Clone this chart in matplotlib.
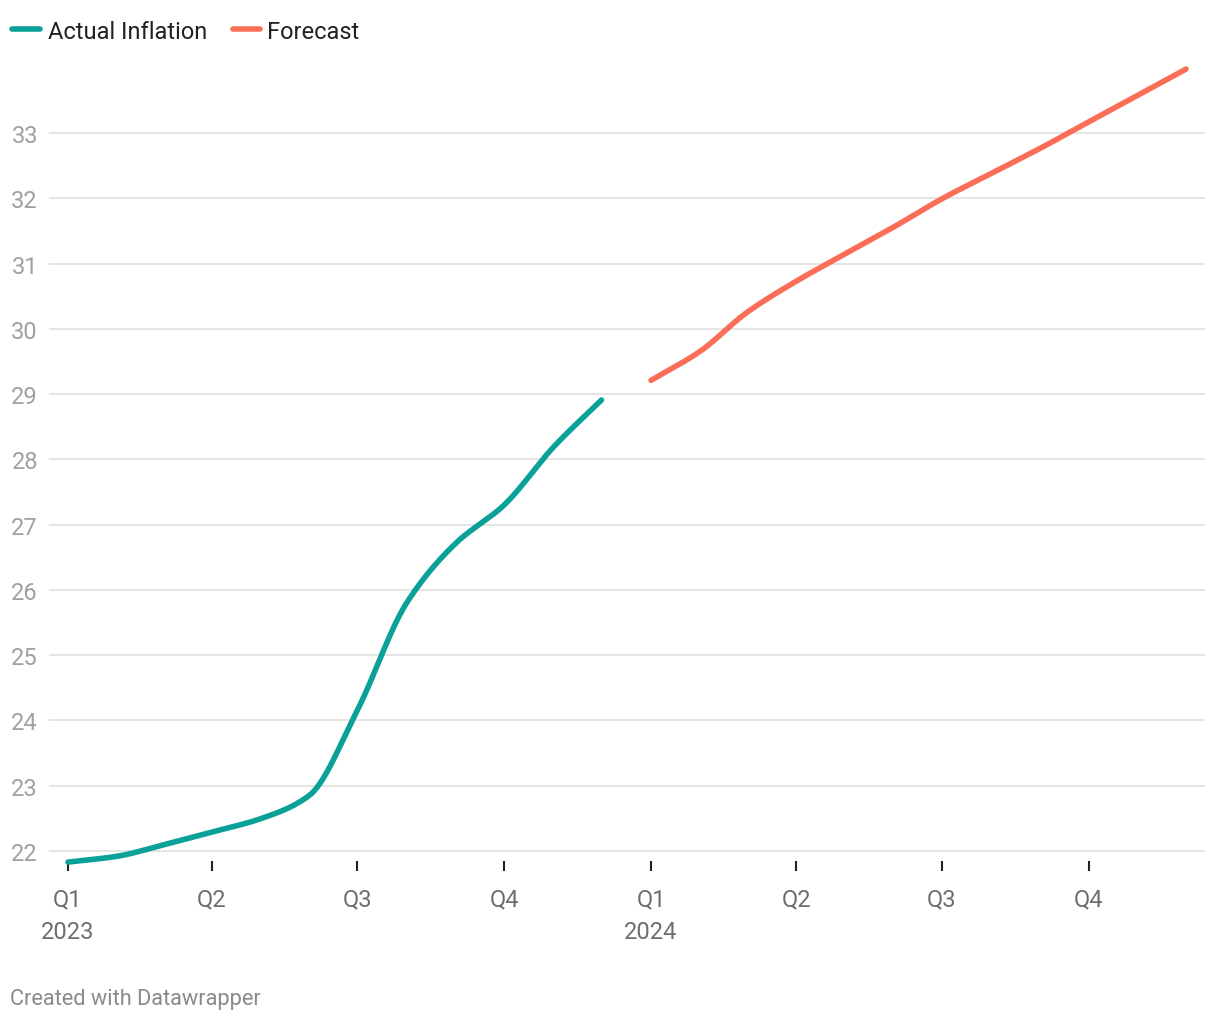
import numpy as np
import pandas as pd
import matplotlib
matplotlib.use("Agg")
import matplotlib.pyplot as plt
import matplotlib.dates as mdates
from matplotlib.lines import Line2D

plt.rcParams['font.family'] = ['Roboto', 'DejaVu Sans']

# monthly values
actual_dates = pd.date_range("2023-01-01", periods=12, freq="MS")
actual_values = [21.83, 21.92, 22.09, 22.29, 22.49, 22.85, 24.15, 25.80, 26.72, 27.30, 28.19, 28.91]

forecast_dates = pd.date_range("2024-01-01", periods=12, freq="MS")
forecast_values = [29.21, 29.66, 30.25, 30.73, 31.14, 31.56, 31.99, 32.38, 32.77, 33.17, 33.58, 33.98]

tick_dates = pd.to_datetime(["2023-01-01", "2023-04-01", "2023-07-01", "2023-10-01",
                             "2024-01-01", "2024-04-01", "2024-07-01", "2024-10-01"])
tick_labels = ["Q1\n2023", "Q2", "Q3", "Q4", "Q1\n2024", "Q2", "Q3", "Q4"]
y_ticks = list(range(22, 34))

TEAL = "#0aa198"
CORAL = "#fa6e57"


def monotone_curve(x, y, n=40):
    # monotone cubic (like d3 curveMonotoneX) drawn between the data points
    x = np.asarray(x, float)
    y = np.asarray(y, float)
    h = np.diff(x)
    d = np.diff(y) / h
    m = np.zeros_like(y)
    m[0], m[-1] = d[0], d[-1]
    for i in range(1, len(y) - 1):
        if d[i - 1] * d[i] <= 0:
            m[i] = 0
        else:
            w1 = 2 * h[i] + h[i - 1]
            w2 = h[i] + 2 * h[i - 1]
            m[i] = (w1 + w2) / (w1 / d[i - 1] + w2 / d[i])
    xs, ys = [], []
    for i in range(len(x) - 1):
        t = np.linspace(0, 1, n)
        h00 = 2 * t**3 - 3 * t**2 + 1
        h10 = t**3 - 2 * t**2 + t
        h01 = -2 * t**3 + 3 * t**2
        h11 = t**3 - t**2
        xs.append(x[i] + t * h[i])
        ys.append(h00 * y[i] + h10 * h[i] * m[i] + h01 * y[i + 1] + h11 * h[i] * m[i + 1])
    return np.concatenate(xs), np.concatenate(ys)


fig = plt.figure(figsize=(12.2, 10.2), dpi=100)
W, H = 1220, 1020
ax = fig.add_axes([49 / W, 1 - 862 / H, (1205 - 49) / W, (862 - 60) / H])

px_per_unit = 718 / 11
ax.set_ylim(22 - 10 / px_per_unit, 22 + 792 / px_per_unit)
x0 = mdates.date2num(pd.Timestamp("2023-01-01"))
px_per_day = 583 / 365
ax.set_xlim(x0 - 19 / px_per_day, x0 + (1205 - 68) / px_per_day)

for yt in y_ticks:
    ax.axhline(yt, color="#e5e5e5", lw=1.4, zorder=1)

ax_x, ax_y = monotone_curve(mdates.date2num(actual_dates), actual_values)
ax.plot(ax_x, ax_y, color=TEAL, lw=4, solid_capstyle="round", clip_on=False, zorder=3)
fx, fy = monotone_curve(mdates.date2num(forecast_dates), forecast_values)
ax.plot(fx, fy, color=CORAL, lw=4, solid_capstyle="round", clip_on=False, zorder=3)

for s in ax.spines.values():
    s.set_visible(False)

ax.set_yticks(y_ticks)
ax.set_yticklabels([str(v) for v in y_ticks])
ax.tick_params(axis="y", length=0, pad=8, labelsize=17, labelcolor="#a0a0a0")

ax.set_xticks(mdates.date2num(tick_dates))
ax.set_xticklabels(tick_labels, linespacing=1.5)
ax.tick_params(axis="x", length=7.2, width=1.5, color="#222222", pad=12,
               labelsize=17, labelcolor="#6e6e6e", direction="out")

# legend
fig.add_artist(Line2D([12 / W, 40 / W], [1 - 30 / H, 1 - 30 / H], color=TEAL, lw=4,
                      solid_capstyle="round"))
fig.text(48 / W, 1 - 30 / H, "Actual Inflation", fontsize=17, color="#222222", va="center_baseline")
fig.add_artist(Line2D([233 / W, 260 / W], [1 - 30 / H, 1 - 30 / H], color=CORAL, lw=4,
                      solid_capstyle="round"))
fig.text(267 / W, 1 - 30 / H, "Forecast", fontsize=17, color="#222222", va="center_baseline")

fig.text(10 / W, 1 - 997 / H, "Created with Datawrapper", fontsize=15.7, color="#8a8a8a",
         va="center_baseline")

fig.savefig("out.png", dpi=100, facecolor="white")
